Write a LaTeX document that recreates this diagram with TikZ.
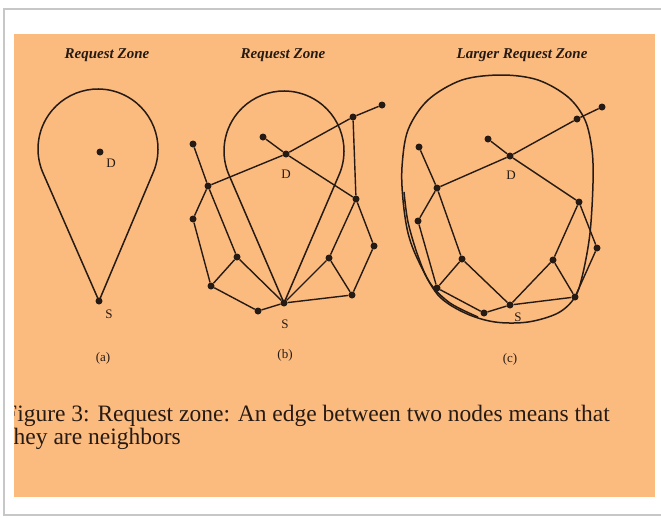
\documentclass[tikz,border=0pt]{standalone}
\usepackage{fontspec}
\setmainfont{Liberation Serif}
\definecolor{orangebg}{RGB}{252,187,126}
\definecolor{ink}{RGB}{38,26,20}
\begin{document}
\begin{tikzpicture}[x=1pt,y=1pt,
  dot/.style={circle,fill=ink,inner sep=0pt,minimum size=7pt},
  edge/.style={draw=ink,line width=1.4pt},
  zone/.style={draw=ink,line width=1.5pt,line join=round},
  lbl/.style={text=ink,font=\fontsize{13}{13}\selectfont,inner sep=0pt},
  ttl/.style={text=ink,font=\bfseries\itshape\fontsize{15}{15}\selectfont,inner sep=0pt},
  capt/.style={text=ink,font=\fontsize{23.5}{24}\selectfont,inner sep=0pt}]
\useasboundingbox (0,0) rectangle (661,-517);
\fill[white] (0,0) rectangle (661,-517);
\draw[black!22,line width=1.5pt] (4,-9) rectangle (662,-515);
\fill[orangebg] (14,-34) rectangle (655,-497);

% titles
\node[ttl] (ta) at (107,-55) {Request Zone};
\node[ttl] (tb) at (283,-55) {Request Zone};
\node[ttl] (tc) at (522,-55) {Larger Request Zone};

% ---------- (a)
\node[dot] (aD) at (100,-152) {};
\node[dot] (aS) at (99,-301) {};
\coordinate (aC) at (98,-149);
\draw[zone] (aS.center) -- ([shift={(-23.25:60)}]aC) arc[start angle=-23.25,end angle=203.25,radius=60] -- cycle;
\node[lbl] (aDl) at (111,-163) {D};
\node[lbl] (aSl) at (109,-314) {S};
\node[lbl] (acap) at (103,-358) {(a)};

% ---------- (b)
\coordinate (bC) at (284,-151);
\node[dot] (bS) at (284,-303) {};
\draw[zone] (bS.center) -- ([shift={(-23.25:60)}]bC) arc[start angle=-23.25,end angle=203.25,radius=60] -- cycle;
\node[dot] (bD) at (286,-154) {};
\node[dot] (bA) at (263,-137) {};
\node[dot] (bFR) at (382,-105) {};
\node[dot] (bTR) at (353,-117) {};
\node[dot] (bLT) at (193,-144) {};
\node[dot] (bLM) at (208,-186) {};
\node[dot] (bLL) at (193,-219) {};
\node[dot] (bL1) at (237,-257) {};
\node[dot] (bL2) at (211,-286) {};
\node[dot] (bL3) at (258,-311) {};
\node[dot] (bR) at (356,-199) {};
\node[dot] (bR2) at (374,-246) {};
\node[dot] (bR1) at (329,-258) {};
\node[dot] (bR3) at (352,-295) {};
\draw[edge] (bLT) -- (bLM) -- (bL1);
\draw[edge] (bLM) -- (bD) -- (bTR) -- (bFR);
\draw[edge] (bA) -- (bD) -- (bR);
\draw[edge] (bTR) -- (bR);
\draw[edge] (bLM) -- (bLL) -- (bL2) -- (bL1) -- (bS);
\draw[edge] (bL2) -- (bL3) -- (bS);
\draw[edge] (bS) -- (bR1) -- (bR) -- (bR2) -- (bR3) -- (bS);
\draw[edge] (bR1) -- (bR3);
\node[lbl] (bDl) at (286,-174) {D};
\node[lbl] (bSl) at (285,-324) {S};
\node[lbl] (bcap) at (285,-355) {(b)};

% ---------- (c)
\draw[zone] plot[smooth cycle,tension=0.55] coordinates {(502,-75) (538,-80) (568,-97) (585,-120) (592,-150) (593,-183) (590,-233) (583,-273) (575,-297) (558,-313) (528,-322) (495,-322) (465,-313) (438,-295) (418,-260) (408,-233) (403,-200) (402,-167) (408,-130) (428,-100) (462,-80)};
\draw[zone] plot[smooth,tension=0.55] coordinates {(404,-192) (408,-222) (418,-256) (430,-283) (450,-303) (478,-317)};
\node[dot] (cD) at (510,-156) {};
\node[dot] (cA) at (488,-139) {};
\node[dot] (cFR) at (602,-107) {};
\node[dot] (cTR) at (577,-119) {};
\node[dot] (cLT) at (419,-147) {};
\node[dot] (cLM) at (437,-188) {};
\node[dot] (cLL) at (418,-221) {};
\node[dot] (cL1) at (462,-259) {};
\node[dot] (cL2) at (437,-288) {};
\node[dot] (cL3) at (484,-313) {};
\node[dot] (cS) at (510,-305) {};
\node[dot] (cR) at (579,-202) {};
\node[dot] (cR2) at (597,-248) {};
\node[dot] (cR1) at (553,-260) {};
\node[dot] (cR3) at (575,-297) {};
\draw[edge] (cLT) -- (cLM) -- (cL1);
\draw[edge] (cLM) -- (cD) -- (cTR) -- (cFR);
\draw[edge] (cA) -- (cD) -- (cR);
\draw[edge] (cLM) -- (cLL) -- (cL2) -- (cL1) -- (cS);
\draw[edge] (cL2) -- (cL3) -- (cS);
\draw[edge] (cS) -- (cR1) -- (cR) -- (cR2) -- (cR3) -- (cS);
\draw[edge] (cR1) -- (cR3);
\node[lbl] (cDl) at (511,-175) {D};
\node[lbl] (cSl) at (518,-317) {S};
\node[lbl] (ccap) at (510,-359) {(c)};

% caption
\begin{scope}
\clip (14,-34) rectangle (655,-497);
\node[capt,anchor=base west] (cap1) at (4,-421) {Figure 3: Request zone: An edge between two nodes means that};
\node[capt,anchor=base west] (cap2) at (7,-444) {they are neighbors};
\end{scope}
\end{tikzpicture}
\end{document}
